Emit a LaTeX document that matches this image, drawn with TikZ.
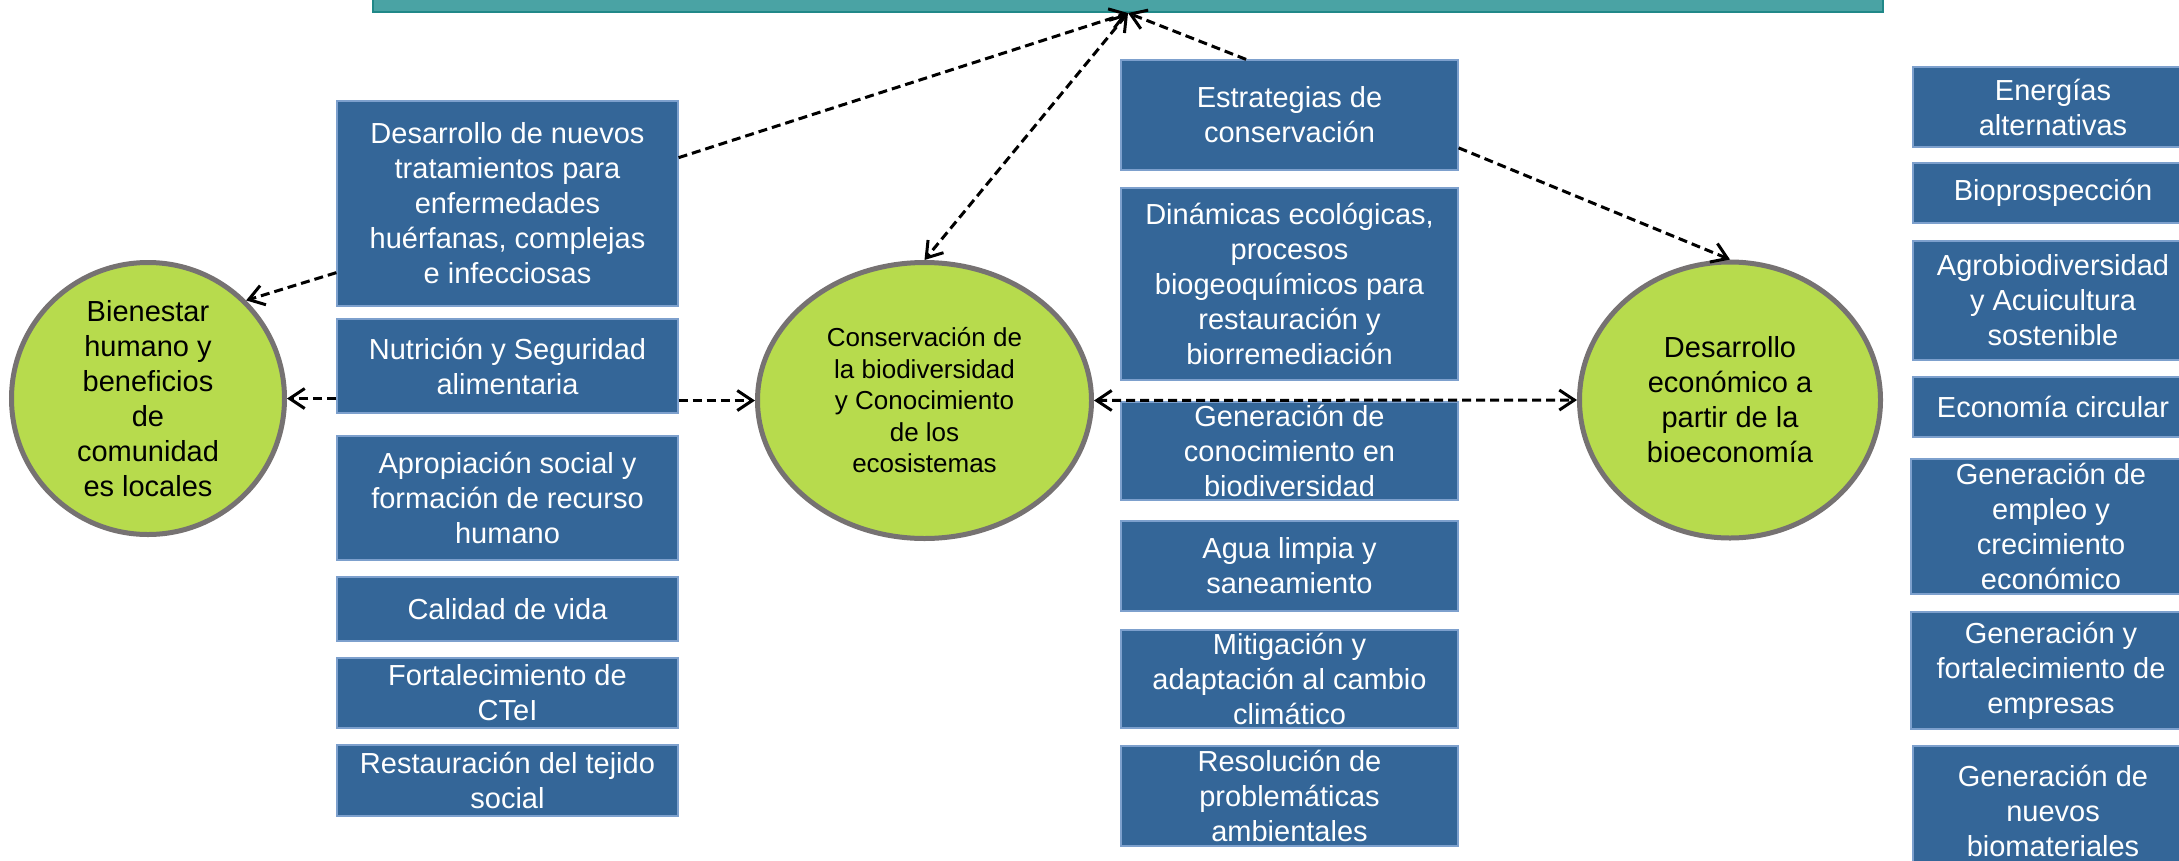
\documentclass[tikz,border=0pt]{standalone}
\usepackage{fontspec}
\setmainfont{Liberation Sans}
\usetikzlibrary{shapes.geometric,arrows.meta}
\definecolor{boxblue}{RGB}{52,102,152}
\definecolor{boxline}{RGB}{125,160,205}
\definecolor{limegreen}{RGB}{183,219,77}
\definecolor{ringgray}{RGB}{118,114,114}
\definecolor{tealbar}{RGB}{74,163,164}
\definecolor{tealedge}{RGB}{32,136,136}

\begin{document}
\begin{tikzpicture}[x=1pt, y=-1pt,
  topicbox/.style={rectangle, fill=boxblue, draw=boxline, line width=1.2pt, inner sep=0pt},
  topictext/.style={text=white, align=center, font=\fontsize{29}{35}\selectfont},
  goalring/.style={ellipse, fill=limegreen, draw=ringgray, line width=5pt, inner sep=0pt},
  goaltext/.style={text=black, align=center, font=\fontsize{29}{35}\selectfont},
  link/.style={-{Straight Barb[length=15pt,width=20pt]}, line width=3pt, dash pattern=on 9pt off 5pt},
  bilink/.style={{Straight Barb[length=15pt,width=20pt]}-{Straight Barb[length=15pt,width=20pt]}, line width=3pt, dash pattern=on 9pt off 5pt}]
\useasboundingbox (0, 0) rectangle (2179, 860);
\clip (0, 0) rectangle (2179, 860);

\node [fill=tealbar, draw=tealedge, line width=2pt, inner sep=0pt, minimum width=1510pt, minimum height=60pt] (bar) at (1128, -18) {};

\node [goalring, minimum width=273pt, minimum height=272pt, label={[goaltext]center:{Bienestar\\humano y\\beneficios\\de\\comunidad\\es locales}}] (bienestar) at (148, 398.5) {};
\node [goalring, minimum width=334pt, minimum height=276pt, label={[goaltext, font=\fontsize{26}{31.5}\selectfont]center:{Conservación de\\la biodiversidad\\y Conocimiento\\de los\\ecosistemas}}] (conserv) at (924.5, 400.5) {};
\node [goalring, minimum width=301pt, minimum height=276pt, label={[goaltext]center:{Desarrollo\\económico a\\partir de la\\bioeconomía}}] (bioecon) at (1730, 400) {};

\node [topicbox, minimum width=341pt, minimum height=205pt, label={[topictext]center:{Desarrollo de nuevos\\tratamientos para\\enfermedades\\huérfanas, complejas\\e infecciosas}}] (desarrollo) at (507.5, 203.5) {};
\node [topicbox, minimum width=341pt, minimum height=94pt, label={[topictext]center:{Nutrición y Seguridad\\alimentaria}}] (nutricion) at (507.5, 366) {};
\node [topicbox, minimum width=341pt, minimum height=124pt, label={[topictext]center:{Apropiación social y\\formación de recurso\\humano}}] (apropiacion) at (507.5, 498) {};
\node [topicbox, minimum width=341pt, minimum height=64pt, label={[topictext]center:{Calidad de vida}}] (calidad) at (507.5, 609) {};
\node [topicbox, minimum width=341pt, minimum height=70pt, label={[topictext]center:{Fortalecimiento de\\CTeI}}] (ctei) at (507.5, 693) {};
\node [topicbox, minimum width=341pt, minimum height=71pt, label={[topictext]center:{Restauración del tejido\\social}}] (tejido) at (507.5, 780.5) {};

\node [topicbox, minimum width=337pt, minimum height=110pt, label={[topictext]center:{Estrategias de\\conservación}}] (estrategias) at (1289.5, 115) {};
\node [topicbox, minimum width=337pt, minimum height=192pt, label={[topictext]center:{Dinámicas ecológicas,\\procesos\\biogeoquímicos para\\restauración y\\biorremediación}}] (dinamicas) at (1289.5, 284) {};
\node [topicbox, minimum width=337pt, minimum height=98pt, label={[topictext]center:{Generación de\\conocimiento en\\biodiversidad}}] (conocimiento) at (1289.5, 451) {};
\node [topicbox, minimum width=337pt, minimum height=90pt, label={[topictext]center:{Agua limpia y\\saneamiento}}] (agua) at (1289.5, 566) {};
\node [topicbox, minimum width=337pt, minimum height=98pt, label={[topictext]center:{Mitigación y\\adaptación al cambio\\climático}}] (mitigacion) at (1289.5, 679) {};
\node [topicbox, minimum width=337pt, minimum height=100pt, label={[topictext]center:{Resolución de\\problemáticas\\ambientales}}] (resolucion) at (1289.5, 796) {};

\node [topicbox, minimum width=280pt, minimum height=80pt, label={[topictext]center:{Energías\\alternativas}}] (energias) at (2053, 107) {};
\node [topicbox, minimum width=280pt, minimum height=60pt, label={[topictext]center:{Bioprospección}}] (bioprosp) at (2053, 193) {};
\node [topicbox, minimum width=280pt, minimum height=119pt, label={[topictext]center:{Agrobiodiversidad\\y Acuicultura\\sostenible}}] (agrobio) at (2053, 300.5) {};
\node [topicbox, minimum width=280pt, minimum height=60pt, label={[topictext]center:{Economía circular}}] (circular) at (2053, 407) {};
\node [topicbox, minimum width=280pt, minimum height=135pt, label={[topictext]center:{Generación de\\empleo y\\crecimiento\\económico}}] (empleo) at (2051, 526.5) {};
\node [topicbox, minimum width=280pt, minimum height=117pt, label={[topictext]center:{Generación y\\fortalecimiento de\\empresas}}] (empresas) at (2051, 670.5) {};
\node [topicbox, minimum width=280pt, minimum height=130pt, label={[topictext]center:{Generación de\\nuevos\\biomateriales}}] (biomat) at (2053, 811) {};

\draw [link] (desarrollo.15) -- (bar.south);
\draw [bilink] (bar.south) -- (conserv.north);
\draw [link] (estrategias.128) -- (bar.south);
\draw [link] (estrategias.-11) -- (bioecon.north);
\draw [link] (desarrollo.202) -- (bienestar.45);
\draw [link] (bienestar.east -| nutricion.west) -- (bienestar.east);
\draw [link] (nutricion.east |- conserv.west) -- (conserv.west);
\draw [bilink] (conserv.east) -- (bioecon.west);
\end{tikzpicture}
\end{document}
